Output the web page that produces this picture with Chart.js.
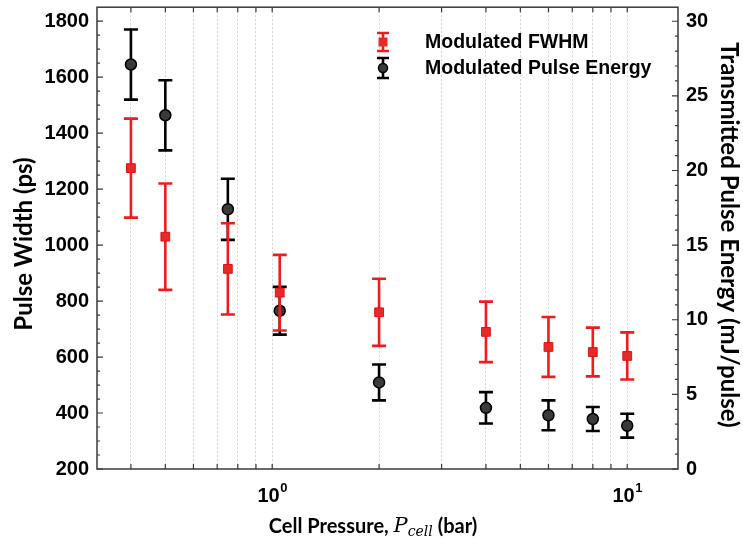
<!DOCTYPE html>
<html>
<head>
<meta charset="utf-8">
<script src="https://cdn.jsdelivr.net/npm/chart.js@4.4.1/dist/chart.umd.min.js"></script>
<style>
  html, body { margin: 0; padding: 0; background: #fff; }
</style>
</head>
<body>
<canvas id="myChart" width="743" height="544"></canvas>
<script>
// cell pressure (bar)
const pressure = [0.4, 0.5, 0.75, 1.05, 2, 4, 6, 8, 10];
// modulated FWHM (ps), left axis
const fwhm = [1275, 1030, 915, 830, 760, 690, 636, 618, 604];
const fwhmErr = [177, 190, 163, 135, 120, 108, 107, 87, 84];
// modulated pulse energy (mJ/pulse), right axis
const energy = [27.1, 23.7, 17.4, 10.6, 5.8, 4.1, 3.6, 3.35, 2.9];
const energyErr = [2.35, 2.35, 2.05, 1.6, 1.2, 1.05, 1.0, 0.8, 0.8];
// tick values
const xTicks = [0.4, 0.5, 0.6, 0.7, 0.8, 0.9, 1, 2, 3, 4, 5, 6, 7, 8, 9, 10];
const xLabelTicks = [1, 10];
const yTicks = [];
for (let v = 200; v <= 1800; v += 50) yTicks.push(v);
const y2Ticks = [];
for (let v = 0; v <= 30; v += 1) y2Ticks.push(v);

const tickFont = { family: 'Liberation Sans, Arial, sans-serif', size: 20, weight: 'bold' };
const titleFamily = 'Lato, "Open Sans", sans-serif';

const errorBars = {
  id: 'errorBars',
  beforeDatasetDraw(chart, args) {
    const ds = chart.data.datasets[args.index];
    const xs = chart.scales.x, ys = chart.scales[ds.yAxisID];
    const ctx = chart.ctx;
    ctx.save();
    ctx.strokeStyle = ds.errColor;
    ctx.lineWidth = 2.6;
    ds.data.forEach((p, i) => {
      const x = xs.getPixelForValue(p.x);
      const t = ys.getPixelForValue(p.y + ds.err[i]);
      const b = ys.getPixelForValue(p.y - ds.err[i]);
      ctx.beginPath();
      ctx.moveTo(x, t); ctx.lineTo(x, b);
      ctx.moveTo(x - 7, t); ctx.lineTo(x + 7, t);
      ctx.moveTo(x - 7, b); ctx.lineTo(x + 7, b);
      ctx.stroke();
    });
    ctx.restore();
  }
};

const frame = {
  id: 'frame',
  beforeDatasetsDraw(chart) {
    const { ctx, chartArea: a, scales } = chart;
    ctx.save();
    ctx.strokeStyle = '#3a3a3a';
    ctx.lineWidth = 1.5;
    ctx.strokeRect(a.left, a.top, a.right - a.left, a.bottom - a.top);
    ctx.lineWidth = 1.2;
    ctx.beginPath();
    scales.x.ticks.forEach(t => {
      const x = scales.x.getPixelForValue(t.value);
      ctx.moveTo(x, a.bottom); ctx.lineTo(x, a.bottom - 5);
      ctx.moveTo(x, a.top); ctx.lineTo(x, a.top + 5);
    });
    scales.y.ticks.forEach(t => {
      const y = scales.y.getPixelForValue(t.value);
      ctx.moveTo(a.left, y); ctx.lineTo(a.left + (t.value % 200 === 0 ? 6 : 3), y);
    });
    scales.y2.ticks.forEach(t => {
      const y = scales.y2.getPixelForValue(t.value);
      ctx.moveTo(a.right, y); ctx.lineTo(a.right - (t.value % 5 === 0 ? 6 : 3), y);
    });
    ctx.stroke();
    ctx.restore();
  }
};

const texts = {
  id: 'texts',
  afterDraw(chart) {
    const { ctx, scales } = chart;
    ctx.save();
    ctx.fillStyle = '#000';
    ctx.textBaseline = 'middle';

    // x tick labels 10^n
    xLabelTicks.forEach(v => {
      const x = scales.x.getPixelForValue(v);
      const exp = String(Math.round(Math.log10(v)));
      ctx.font = 'bold 20px "Liberation Sans", Arial, sans-serif';
      const w1 = ctx.measureText('10').width;
      ctx.font = 'bold 13px "Liberation Sans", Arial, sans-serif';
      const w2 = ctx.measureText(exp).width;
      const x0 = x - (w1 + w2) / 2;
      ctx.textAlign = 'left';
      ctx.font = 'bold 20px "Liberation Sans", Arial, sans-serif';
      ctx.fillText('10', x0, 496);
      ctx.font = 'bold 13px "Liberation Sans", Arial, sans-serif';
      ctx.fillText(exp, x0 + w1 + 0.5, 488);
    });

    // x axis title with italic subscript
    const parts = [
      { t: 'Cell Pressure, ', f: 'bold 20px ' + titleFamily, dy: 0 },
      { t: 'P', f: 'italic 21px "DejaVu Serif", serif', dy: 0 },
      { t: 'cell', f: 'italic 14px "DejaVu Serif", serif', dy: 5 },
      { t: ' (bar)', f: 'bold 20px ' + titleFamily, dy: 0 }
    ];
    let total = 0;
    parts.forEach(p => { ctx.font = p.f; p.w = ctx.measureText(p.t).width; total += p.w; });
    let cx = 373 - total / 2;
    ctx.textAlign = 'left';
    parts.forEach(p => { ctx.font = p.f; ctx.fillText(p.t, cx, 527 + p.dy); cx += p.w; });

    // y axis titles
    ctx.textAlign = 'center';
    ctx.font = 'bold 24px ' + titleFamily;
    ctx.save();
    ctx.translate(24, 244);
    ctx.rotate(-Math.PI / 2);
    ctx.fillText('Pulse Width (ps)', 0, 0);
    ctx.restore();
    ctx.save();
    ctx.translate(729, 235);
    ctx.rotate(Math.PI / 2);
    ctx.fillText('Transmitted Pulse Energy (mJ/pulse)', 0, 0);
    ctx.restore();

    // legend
    const items = [
      { label: 'Modulated FWHM', color: '#ee1c1c', y: 42, half: 9, shape: 'rect' },
      { label: 'Modulated Pulse Energy', color: '#000', y: 68, half: 10, shape: 'circle' }
    ];
    items.forEach(it => {
      const x = 383;
      ctx.strokeStyle = it.color;
      ctx.lineWidth = 2.6;
      ctx.beginPath();
      ctx.moveTo(x, it.y - it.half); ctx.lineTo(x, it.y + it.half);
      ctx.moveTo(x - 6, it.y - it.half); ctx.lineTo(x + 6, it.y - it.half);
      ctx.moveTo(x - 6, it.y + it.half); ctx.lineTo(x + 6, it.y + it.half);
      ctx.stroke();
      if (it.shape === 'rect') {
        ctx.fillStyle = '#e52a2a';
        ctx.fillRect(x - 4.5, it.y - 4.5, 9, 9);
      } else {
        ctx.fillStyle = '#3a3a3a';
        ctx.lineWidth = 1.5;
        ctx.beginPath();
        ctx.arc(x, it.y, 4.5, 0, Math.PI * 2);
        ctx.fill(); ctx.stroke();
      }
      ctx.fillStyle = '#000';
      ctx.textAlign = 'left';
      ctx.font = 'bold 19.5px "Liberation Sans", Arial, sans-serif';
      ctx.fillText(it.label, 425, it.y + 1);
    });
    ctx.restore();
  }
};

const ctx = document.getElementById('myChart').getContext('2d');
const myChart = new Chart(ctx, {
  type: 'scatter',
  data: {
    datasets: [{
      label: 'Modulated FWHM',
      data: pressure.map((p, i) => ({ x: p, y: fwhm[i] })),
      err: fwhmErr,
      errColor: '#ee1c1c',
      yAxisID: 'y',
      pointStyle: 'rect',
      pointRadius: 6.2,
      backgroundColor: '#e52a2a',
      borderColor: '#e01414',
      borderWidth: 1
    }, {
      label: 'Modulated Pulse Energy',
      data: pressure.map((p, i) => ({ x: p, y: energy[i] })),
      err: energyErr,
      errColor: '#000',
      yAxisID: 'y2',
      pointStyle: 'circle',
      pointRadius: 5.5,
      backgroundColor: '#3a3a3a',
      borderColor: '#000',
      borderWidth: 1.5
    }]
  },
  options: {
    responsive: false,
    animation: false,
    events: [],
    layout: { padding: { top: 7, left: 0, right: 0, bottom: 0 } },
    plugins: { legend: { display: false }, tooltip: { enabled: false } },
    scales: {
      x: {
        type: 'logarithmic',
        position: 'bottom',
        bounds: 'data',
        min: 0.321,
        max: 13.9,
        afterBuildTicks: s => { s.ticks = xTicks.map(v => ({ value: v })); },
        afterFit: s => { s.height = 75; s.paddingLeft = 0; s.paddingRight = 0; },
        ticks: { display: false, autoSkip: false },
        grid: { color: 'rgba(0,0,0,0.17)', lineWidth: 1, drawTicks: false },
        border: { display: false, dash: [2, 2] }
      },
      y: {
        type: 'linear',
        position: 'left',
        min: 200,
        max: 1850,
        afterBuildTicks: s => { s.ticks = yTicks.map(v => ({ value: v })); },
        afterFit: s => { s.width = 97; s.paddingTop = 0; s.paddingBottom = 0; },
        ticks: {
          autoSkip: false,
          padding: 8,
          color: '#000',
          font: tickFont,
          callback: v => (v % 200 === 0 ? String(v) : '')
        },
        grid: { display: false, drawTicks: false },
        border: { display: false }
      },
      y2: {
        type: 'linear',
        position: 'right',
        min: 0,
        max: 30.94,
        afterBuildTicks: s => { s.ticks = y2Ticks.map(v => ({ value: v })); },
        afterFit: s => { s.width = 65; s.paddingTop = 0; s.paddingBottom = 0; },
        ticks: {
          autoSkip: false,
          padding: 8,
          color: '#000',
          font: tickFont,
          callback: v => (v % 5 === 0 ? String(v) : '')
        },
        grid: { display: false, drawTicks: false },
        border: { display: false }
      }
    }
  },
  plugins: [frame, errorBars, texts]
});
</script>
</body>
</html>
